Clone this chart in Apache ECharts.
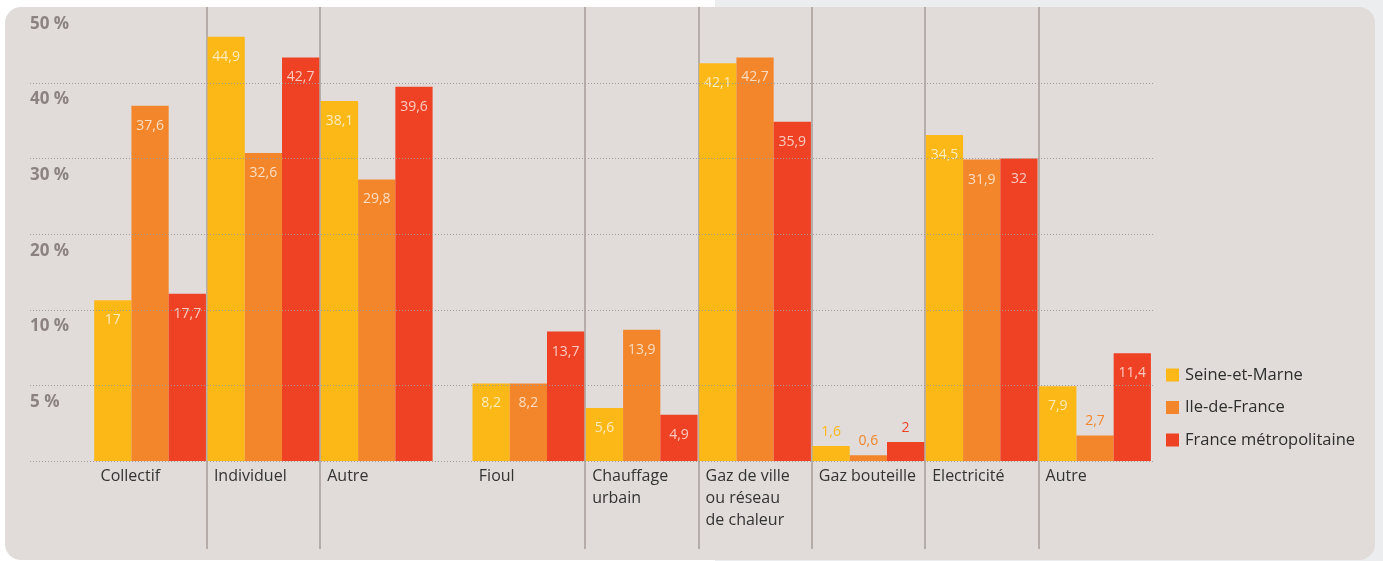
<!DOCTYPE html>
<html><head><meta charset="utf-8">
<script src="https://cdn.jsdelivr.net/npm/echarts@6/dist/echarts.min.js"></script>
<style>
html,body{margin:0;padding:0;background:#fff;overflow:hidden;}
#bgR{position:absolute;left:715px;top:0;width:668px;height:561px;background:#ECEDEF;}
#panel{position:absolute;left:5px;top:7px;width:1370px;height:553px;background:#E1DCDA;border-radius:16px;}
#chart{position:absolute;left:0;top:0;width:1383px;height:561px;}
</style></head><body>
<div id="bgR"></div><div id="panel"></div><div id="chart"></div>
<script>
const housingCategories = ['Collectif', 'Individuel', 'Autre'];
const heatingCategories = ['Fioul', 'Chauffage\nurbain', 'Gaz de ville\nou réseau\nde chaleur', 'Gaz bouteille', 'Electricité', 'Autre'];
const seriesNames = ['Seine-et-Marne', 'Ile-de-France', 'France métropolitaine'];
const housingSeineEtMarne = [17, 44.9, 38.1];
const housingIleDeFrance = [37.6, 32.6, 29.8];
const housingFrance = [17.7, 42.7, 39.6];
const heatingSeineEtMarne = [8.2, 5.6, 42.1, 1.6, 34.5, 7.9];
const heatingIleDeFrance = [8.2, 13.9, 42.7, 0.6, 31.9, 2.7];
const heatingFrance = [13.7, 4.9, 35.9, 2, 32, 11.4];
const yTickLabels = ['', '5 %', '10 %', '20 %', '30 %', '40 %', '50 %'];
const colors = ['#FBB817', '#F3862A', '#EF4123'];

const FONT = 'Open Sans';
const Y_MAX = 48, Y_INT = 8;

function items(vals, color) {
  return vals.map(v => v < 3
    ? { value: v, label: { position: 'top', distance: 7, color: color } }
    : { value: v });
}
function barSeries(name, vals, color, idx) {
  return {
    type: 'bar', name: name, xAxisIndex: idx, yAxisIndex: idx,
    data: items(vals, color),
    itemStyle: { color: color },
    barGap: '0%', barCategoryGap: '1.4%',
    label: {
      show: true, position: 'insideTop', distance: 13,
      color: 'rgba(255,255,255,0.72)', fontSize: 14, fontFamily: FONT,
      formatter: p => String(p.value).replace('.', ',')
    }
  };
}
const catLabel = {
  interval: 0, margin: 4, align: 'center',
  formatter: v => v.split('\n').map(s => '{t|' + s + '}').join('\n'),
  rich: { t: { width: 106, padding: [0, 0, 0, 7], align: 'left', fontSize: 16, lineHeight: 22, color: '#333', fontFamily: FONT } }
};
const sepSplit = { show: true, showMinLine: false, showMaxLine: false, lineStyle: { color: '#B6ADA9', width: 2 } };

const chart = echarts.init(document.getElementById('chart'));
chart.setOption({
  animation: false,
  backgroundColor: 'transparent',
  grid: [
    { left: 93.4, top: 7.4, width: 340, height: 453.6 },
    { left: 471.7, top: 7.4, width: 680, height: 453.6 },
    { left: 93.4, top: 7, width: 340, height: 542 },
    { left: 471.7, top: 7, width: 680, height: 542 },
    { left: 30, top: 7.4, width: 1123, height: 453.6 }
  ],
  xAxis: [
    { gridIndex: 0, type: 'category', data: housingCategories, axisLine: { show: false }, axisTick: { show: false }, axisLabel: catLabel },
    { gridIndex: 1, type: 'category', data: heatingCategories, axisLine: { show: false }, axisTick: { show: false }, axisLabel: catLabel },
    { gridIndex: 2, type: 'category', data: housingCategories, axisLine: { show: false }, axisTick: { show: false }, axisLabel: { show: false }, splitLine: sepSplit },
    { gridIndex: 3, type: 'category', data: heatingCategories, axisLine: { show: false }, axisTick: { show: false }, axisLabel: { show: false }, splitLine: sepSplit },
    { gridIndex: 4, type: 'value', show: false }
  ],
  yAxis: [
    { gridIndex: 0, type: 'value', min: 0, max: Y_MAX, interval: Y_INT, show: false },
    { gridIndex: 1, type: 'value', min: 0, max: Y_MAX, interval: Y_INT, show: false },
    { gridIndex: 2, type: 'value', show: false },
    { gridIndex: 3, type: 'value', show: false },
    {
      gridIndex: 4, type: 'value', min: 0, max: Y_MAX, interval: Y_INT, z: 5,
      axisLine: { show: false }, axisTick: { show: false },
      splitLine: { show: true, showMaxLine: false, lineStyle: { type: [1, 2], color: '#A39B98', width: 1 } },
      axisLabel: {
        inside: true, margin: 0, verticalAlign: 'top', padding: [8, 0, 0, 0],
        fontWeight: 'bold', fontSize: 17, color: '#8C8380', fontFamily: FONT,
        formatter: v => yTickLabels[Math.round(v / Y_INT)]
      }
    }
  ],
  legend: {
    orient: 'vertical', left: 1161, top: 360, itemWidth: 13, itemHeight: 13, itemGap: 12.5,
    icon: 'rect', data: seriesNames,
    textStyle: { fontSize: 16.5, color: '#2E2E2E', fontFamily: FONT, lineHeight: 20, padding: [0, 0, 0, 1] }
  },
  series: [
    barSeries(seriesNames[0], housingSeineEtMarne, colors[0], 0),
    barSeries(seriesNames[1], housingIleDeFrance, colors[1], 0),
    barSeries(seriesNames[2], housingFrance, colors[2], 0),
    barSeries(seriesNames[0], heatingSeineEtMarne, colors[0], 1),
    barSeries(seriesNames[1], heatingIleDeFrance, colors[1], 1),
    barSeries(seriesNames[2], heatingFrance, colors[2], 1)
  ]
});
</script></body></html>
